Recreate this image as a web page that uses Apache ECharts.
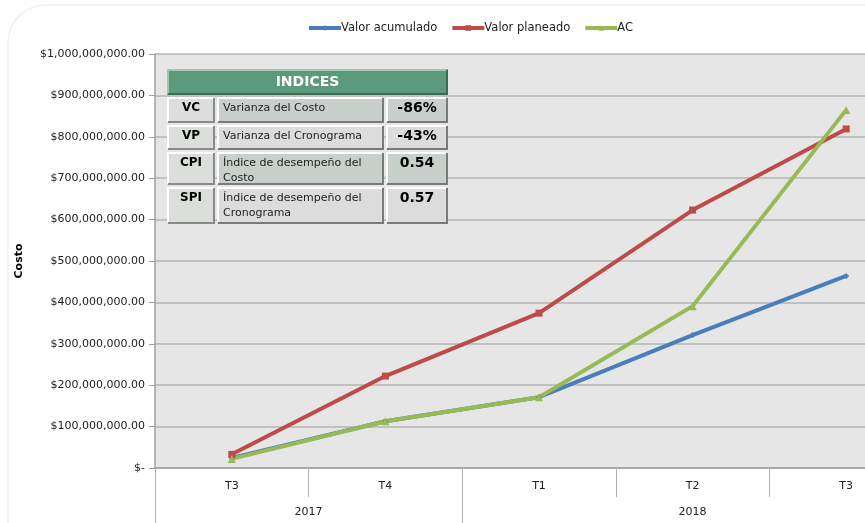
<!DOCTYPE html>
<html>
<head>
<meta charset="utf-8">
<script src="https://cdn.jsdelivr.net/npm/echarts@6/dist/echarts.min.js"></script>
<style>
html,body{margin:0;padding:0;background:#fff;}
#chart{width:865px;height:523px;}
</style>
</head>
<body>
<div id="chart"></div>
<script>
// ---- data ----
var quarters = ['T3', 'T4', 'T1', 'T2', 'T3'];
var years = ['2017', '2018'];
var yearSpans = [2, 3]; // number of quarters in each year
var valorAcumulado = [24000000, 113000000, 171000000, 321000000, 464000000];
var valorPlaneado = [33000000, 222000000, 374000000, 623000000, 819000000];
var acValues = [22000000, 113000000, 171000000, 391000000, 865000000];
var seriesNames = ['Valor acumulado', 'Valor planeado', 'AC'];

var indexCodes = ['VC', 'VP', 'CPI', 'SPI'];
var indexNames = ['Varianza del Costo', 'Varianza del Cronograma', 'Índice de desempeño del\nCosto', 'Índice de desempeño del\nCronograma'];
var indexValues = ['-86%', '-43%', '0.54', '0.57'];

// ---- chart ----
var FONT = 'Tahoma, "DejaVu Sans", sans-serif';
var chart = echarts.init(document.getElementById('chart'), null, {renderer: 'canvas'});

function money(v) {
  if (v === 0) return '$-';
  return '$' + v.toLocaleString('en-US', {minimumFractionDigits: 2, maximumFractionDigits: 2});
}

var yearTicks = [0], yearCenters = [], acc = 0;
yearSpans.forEach(function (s) { yearCenters.push(acc + s / 2); acc += s; yearTicks.push(acc); });

// table graphic
var TZ = 100;
var tblX = 167, tblY = 69, colW = [48, 167, 62], gap = 2;
var headerH = 26, rowH = [26, 25, 33, 37];
function bevelCell(x, y, w, h, fill, hi, lo) {
  return [
    {type: 'rect', z: TZ, shape: {x: x, y: y, width: w, height: h}, style: {fill: fill}},
    {type: 'polyline', z: TZ + 1, shape: {points: [[x + 1, y + h - 1], [x + 1, y + 1], [x + w - 1, y + 1]]}, style: {stroke: hi, lineWidth: 2, fill: null}},
    {type: 'polyline', z: TZ + 1, shape: {points: [[x + w - 1, y + 1], [x + w - 1, y + h - 1], [x + 1, y + h - 1]]}, style: {stroke: lo, lineWidth: 2, fill: null}}
  ];
}
var graphics = [];
graphics.push({
  type: 'rect', z: -10, silent: true,
  shape: {x: 8, y: 5, width: 900, height: 600, r: 38},
  style: {fill: null, stroke: '#f0f0f0', lineWidth: 1.5}
});
var totalW = colW[0] + colW[1] + colW[2] + 2 * gap;
var cells = [];
cells = cells.concat(bevelCell(tblX, tblY, totalW, headerH, '#5b9b7c', '#9ccab3', '#3b6b54'));
cells.push({type: 'text', z: TZ + 2, style: {x: tblX + totalW / 2, y: tblY + headerH / 2, text: 'INDICES', fill: '#fff', font: 'bold 14px ' + FONT, align: 'center', verticalAlign: 'middle'}});
var yy = tblY + headerH + gap;
for (var i = 0; i < indexCodes.length; i++) {
  var h = rowH[i];
  var dark = (i % 2 === 0);
  var x0 = tblX, x1 = x0 + colW[0] + gap, x2 = x1 + colW[1] + gap;
  cells = cells.concat(bevelCell(x0, yy, colW[0], h, '#dcdedc', '#ffffff', '#8a8a8a'));
  cells = cells.concat(bevelCell(x1, yy, colW[1], h, dark ? '#c9d0cb' : '#dcdcdc', '#ffffff', '#7a7a7a'));
  cells = cells.concat(bevelCell(x2, yy, colW[2], h, dark ? '#c9d0cb' : '#dcdcdc', '#ffffff', '#7a7a7a'));
  cells.push({type: 'text', z: TZ + 2, style: {x: x0 + colW[0] / 2, y: yy + 5, text: indexCodes[i], fill: '#000', font: 'bold 12px ' + FONT, align: 'center', verticalAlign: 'top'}});
  cells.push({type: 'text', z: TZ + 2, style: {x: x1 + 6, y: yy + 4, text: indexNames[i], fill: '#222', font: '11px ' + FONT, align: 'left', verticalAlign: 'top', lineHeight: 15}});
  cells.push({type: 'text', z: TZ + 2, style: {x: x2 + colW[2] / 2, y: yy + 4, text: indexValues[i], fill: '#000', font: 'bold 14px ' + FONT, align: 'center', verticalAlign: 'top'}});
  yy += h + gap;
}
graphics = graphics.concat(cells);

var option = {
  backgroundColor: '#ffffff',
  animation: false,
  textStyle: {fontFamily: FONT},
  legend: {
    top: 17, left: 302,
    itemWidth: 32, itemHeight: 7, itemGap: 13,
    lineStyle: {width: 4},
    textStyle: {fontFamily: FONT, fontSize: 11.5, color: '#222', padding: [0, 0, 0, -5]},
    data: seriesNames
  },
  grid: {
    left: 155, top: 54, width: 768, height: 414, right: -58,
    outerBoundsMode: 'none', containLabel: false,
    show: true, backgroundColor: '#e6e6e6', borderWidth: 0
  },
  xAxis: [
    {
      type: 'category', data: quarters, position: 'bottom', boundaryGap: true,
      axisLine: {show: true, lineStyle: {color: '#a0a0a0', width: 1.5}},
      axisTick: {show: true, interval: 0, length: 29, lineStyle: {color: '#b0b0b0'}},
      axisLabel: {color: '#222', fontSize: 11, fontFamily: FONT, margin: 13, interval: 0},
      splitLine: {show: false}
    },
    {
      type: 'value', min: 0, max: yearTicks[yearTicks.length - 1], position: 'bottom',
      axisLine: {show: false},
      axisTick: {show: true, customValues: yearTicks, length: 56, lineStyle: {color: '#b0b0b0'}},
      axisLabel: {
        customValues: yearCenters, color: '#222', fontSize: 11, fontFamily: FONT, margin: 39,
        formatter: function (v) { var idx = yearCenters.indexOf(v); return idx >= 0 ? years[idx] : ''; }
      },
      splitLine: {show: false}
    }
  ],
  yAxis: {
    type: 'value', min: 0, max: 1000000000, interval: 100000000,
    name: 'Costo', nameLocation: 'middle', nameRotate: 90, nameGap: 130,
    nameTextStyle: {fontWeight: 'bold', fontSize: 11, color: '#000', fontFamily: FONT},
    axisLine: {show: true, lineStyle: {color: '#a0a0a0', width: 1.5}},
    axisTick: {show: true, length: 6, lineStyle: {color: '#a0a0a0'}},
    axisLabel: {color: '#222', fontSize: 11, fontFamily: FONT, margin: 10, formatter: money},
    splitLine: {show: true, lineStyle: {color: '#b4b4b4', width: 1.5}}
  },
  series: [
    {
      name: seriesNames[0], type: 'line', data: valorAcumulado, xAxisIndex: 0,
      symbol: 'diamond', symbolSize: 6, showAllSymbol: true,
      lineStyle: {color: '#4a7ebb', width: 4}, itemStyle: {color: '#4a7ebb'}
    },
    {
      name: seriesNames[1], type: 'line', data: valorPlaneado, xAxisIndex: 0,
      symbol: 'rect', symbolSize: 7, showAllSymbol: true,
      lineStyle: {color: '#be4b48', width: 4}, itemStyle: {color: '#be4b48'}
    },
    {
      name: seriesNames[2], type: 'line', data: acValues, xAxisIndex: 0,
      symbol: 'triangle', symbolSize: 8, showAllSymbol: true,
      lineStyle: {color: '#98b954', width: 4}, itemStyle: {color: '#98b954'}
    }
  ],
  graphic: graphics
};
chart.setOption(option);
</script>
</body>
</html>
